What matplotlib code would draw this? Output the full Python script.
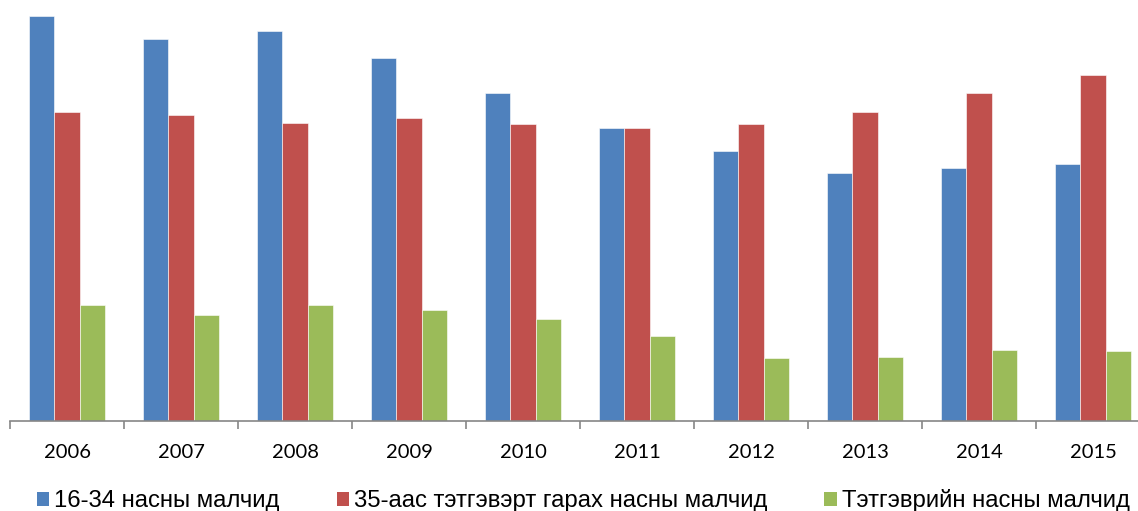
import matplotlib
matplotlib.use("Agg")
import matplotlib.pyplot as plt
from matplotlib.patches import Patch
import numpy as np

years = ["2006", "2007", "2008", "2009", "2010", "2011", "2012", "2013", "2014", "2015"]
series_names = ["16-34 насны малчид", "35-аас тэтгэвэрт гарах насны малчид", "Тэтгэврийн насны малчид"]
young = [405, 382, 390, 363, 328, 293, 270, 248, 253, 257]
middle = [309, 306, 298, 303, 297, 293, 297, 309, 328, 346]
retired = [116, 106, 116, 111, 102, 85, 63, 64, 71, 70]
colors = ["#4F81BD", "#C0504D", "#9BBB59"]

W, H = 1138, 511
fig = plt.figure(figsize=(W / 100, H / 100), dpi=100)
ax = fig.add_axes([10 / W, (H - 421) / H, 1140 / W, 421 / H])

x = np.arange(len(years))
bw = 0.225
for i, (vals, c) in enumerate(zip([young, middle, retired], colors)):
    ax.bar(x + (i - 1) * bw, vals, width=bw, color=c, edgecolor="white", linewidth=0.4)

ax.set_xlim(-0.5, len(years) - 0.5)
ax.set_ylim(0, 421)
for s in ["top", "right", "left"]:
    ax.spines[s].set_visible(False)
ax.spines["bottom"].set_color("#868686")
ax.spines["bottom"].set_linewidth(1.2)
ax.set_yticks([])
ax.set_xticks(x)
ax.set_xticklabels(years, fontsize=14.5, family="Lato")
ax.tick_params(axis="x", which="major", length=0, pad=16.5)
ax.set_xticks(np.arange(len(years) + 1) - 0.5, minor=True)
ax.tick_params(axis="x", which="minor", length=6, width=1.2, color="#868686")

handles = [Patch(facecolor=c, edgecolor="none") for c in colors]
fig.legend(handles, series_names, loc="center left", bbox_to_anchor=(37 / W, 10 / H), ncol=3,
           frameon=False, prop={"family": "Liberation Sans", "size": 17.2},
           handlelength=0.51, handleheight=0.51, handletextpad=0.22, columnspacing=2.38,
           borderaxespad=0, borderpad=0)

fig.savefig("out.png", dpi=100)
